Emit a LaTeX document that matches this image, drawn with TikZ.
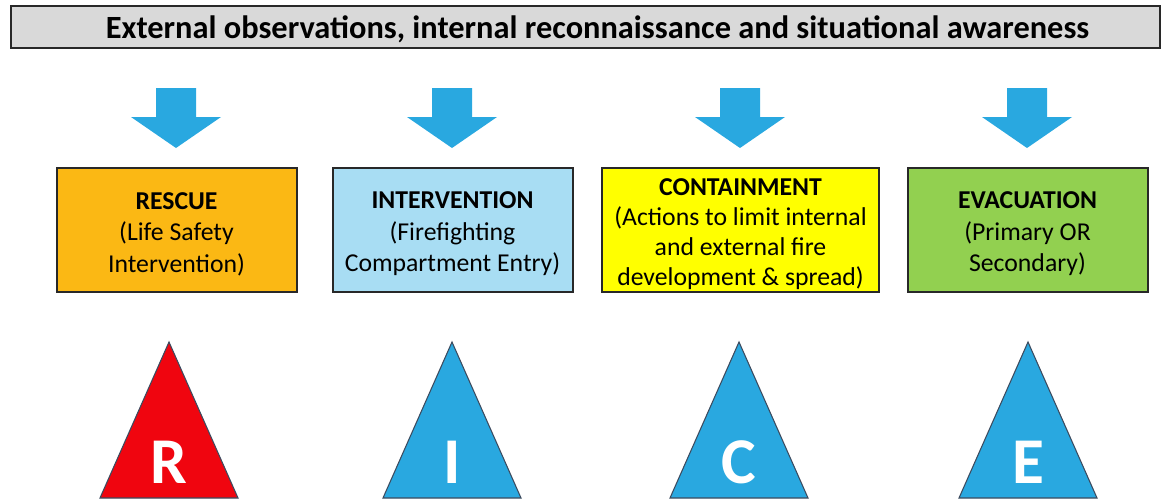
\documentclass[tikz,border=0pt]{standalone}
\usepackage{fontspec}
\setmainfont{Carlito}

\definecolor{arrowblue}{RGB}{41,168,224}
\definecolor{rescuefill}{RGB}{251,184,20}
\definecolor{interfill}{RGB}{168,221,243}
\definecolor{containfill}{RGB}{255,255,0}
\definecolor{evacfill}{RGB}{146,208,80}
\definecolor{barfill}{RGB}{217,217,217}
\definecolor{edgegray}{RGB}{40,40,40}
\definecolor{triedge}{RGB}{60,75,95}
\definecolor{rescuered}{RGB}{240,5,15}

% extra room above the first line, pushes box text down a little
\newcommand{\padtop}{\rule{0pt}{18.5pt}}

\begin{document}
\begin{tikzpicture}[x=0.75pt, y=-0.75pt,
        actionbox/.style={draw=edgegray, line width=1.5pt, minimum height=93pt,
            align=center, inner sep=0pt, font=\fontsize{19.3}{23.6}\selectfont},
        letter/.style={text=white, inner sep=0pt, font=\fontsize{49}{49}\selectfont\bfseries}]
    \useasboundingbox (0,0) rectangle (1171,500);

    % heading bar (text sits a bit right of centre)
    \node[draw=edgegray, line width=2pt, fill=barfill, minimum width=861.75pt, minimum height=31.5pt,
        inner sep=0pt, text height=18pt, text depth=1.5pt,
        font=\fontsize{24.3}{28}\selectfont\bfseries] (heading) at (585.5,27)
        {\hspace*{18pt}External observations, internal reconnaissance and situational awareness};

    % block arrows down to each box
    \foreach \cx in {176,452,740,1027}
        \fill[arrowblue] (\cx-20,88) -- (\cx+20,88) -- (\cx+20,117) -- (\cx+45,117)
            -- (\cx,148) -- (\cx-45,117) -- (\cx-20,117) -- cycle;

    % action boxes
    \node[actionbox, fill=rescuefill, minimum width=180pt] (rescue) at (176.5,230)
        {\padtop\textbf{RESCUE}\\(Life Safety\\Intervention)};
    \node[actionbox, fill=interfill, minimum width=180pt] (intervention) at (452.5,230)
        {\padtop\textbf{INTERVENTION}\\(Firefighting\\Compartment Entry)};
    \node[actionbox, fill=containfill, minimum width=207.75pt,
        font=\fontsize{19.3}{22.5}\selectfont] (containment) at (740.5,230)
        {\padtop\textbf{CONTAINMENT}\\(Actions to limit internal\\and external fire\\development \& spread)};
    \node[actionbox, fill=evacfill, minimum width=180pt] (evacuation) at (1027.5,230)
        {\padtop\textbf{EVACUATION}\\(Primary OR\\Secondary)};

    % R I C E triangles
    \foreach \cx/\col/\ch in {169/rescuered/R, 452/arrowblue/I, 739/arrowblue/C, 1028/arrowblue/E} {
        \draw[triedge, fill=\col, line width=0.8pt] (\cx,342) -- (\cx+69,498) -- (\cx-69,498) -- cycle;
        \node[letter] (tri\ch) at (\cx,462) {\ch};
    }
\end{tikzpicture}
\end{document}
